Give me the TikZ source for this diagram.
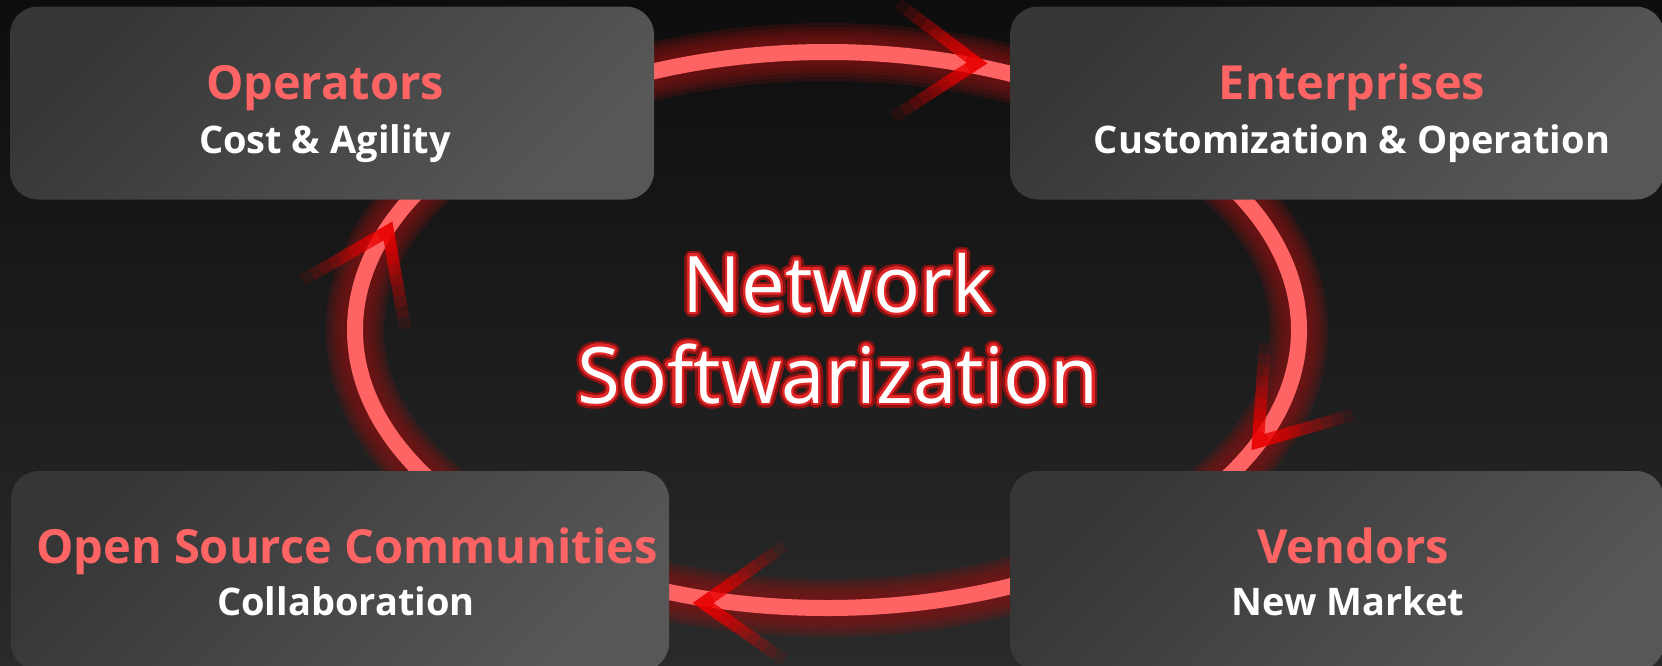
\documentclass[tikz,border=0pt]{standalone}
\usepackage{fontspec}
\setmainfont{Open Sans}
\usepackage[copies]{contour}
\usetikzlibrary{calc}

\definecolor{bgtop}{HTML}{0D0D0D}
\definecolor{bgbot}{HTML}{2A2A2A}
\definecolor{boxdark}{HTML}{363636}
\definecolor{boxlight}{HTML}{575757}
\definecolor{ringred}{HTML}{FF6464}
\definecolor{glowred}{HTML}{8A1212}
\definecolor{tipred}{HTML}{E80000}
\definecolor{outred}{HTML}{E02626}

\newcommand{\titlefont}{\fontsize{47}{52}\selectfont\bfseries}
\newcommand{\subfont}{\fontsize{38}{44}\selectfont\bfseries}
\newcommand{\bigfont}{\fontsize{78}{90}\selectfont}
\contournumber{32}
\newcommand{\glowtext}[1]{\makebox[0pt][l]{\contourlength{5pt}\contour{glowred}{\textcolor{outred}{#1}}}\contourlength{2.2pt}\contour{outred}{#1}}

\tikzset{
  panel/.style={rounded corners=28pt, top color=boxdark, bottom color=boxlight, shading angle=45, inner sep=0pt, outer sep=0pt},
  titletext/.style={text=ringred, font=\titlefont, inner sep=0pt, anchor=base},
  subtext/.style={text=white, font=\subfont, inner sep=0pt, anchor=base},
  bigtext/.style={text=white, font=\bigfont, inner sep=0pt, anchor=base},
  chevarm/.style={tipred, line width=12pt},
}

\begin{document}
\begin{tikzpicture}[x=1pt, y=-1pt]
  \useasboundingbox (0,0) rectangle (1662,665);
  \clip (0,0) rectangle (1662,665);
  \shade[top color=bgtop, bottom color=bgbot] (0,0) rectangle (1662,665);

  % glowing ring
  \coordinate (ring) at (827,330);
  \foreach \w in {58,50,42,34,26}
    \draw[glowred, opacity=.22, line width=\w pt] (ring) ellipse [x radius=472, y radius=278];
  \draw[ringred, line width=16pt] (ring) ellipse [x radius=472, y radius=278];

  % chevrons on the ring
  \coordinate (tiptop) at (977,63);
  \coordinate (tipright) at (1258,442);
  \coordinate (tipbottom) at (703,603);
  \coordinate (tipleft) at (388,231);
  \foreach \tip/\dir in {tiptop/2, tipright/129, tipbottom/180, tipleft/-65} {
    \draw[chevarm, opacity=.9, line join=miter] ($(\tip)+({\dir+145}:11)$) -- (\tip) -- ($(\tip)+({\dir+215}:11)$);
    \foreach \i in {1,...,9} {
      \pgfmathsetmacro{\op}{.9-.1*\i}
      \draw[chevarm, opacity=\op] ($(\tip)+({\dir+145}:{\i*11})$) -- ($(\tip)+({\dir+145}:{\i*11+11})$);
      \draw[chevarm, opacity=\op] ($(\tip)+({\dir+215}:{\i*11})$) -- ($(\tip)+({\dir+215}:{\i*11+11})$);
    }
  }

  % panels
  \node[panel, minimum width=644pt, minimum height=193pt] (opsbox) at (332,103) {};
  \node[panel, minimum width=654pt, minimum height=193pt] (entbox) at (1337,103) {};
  \node[panel, minimum width=658pt, minimum height=200pt] (ossbox) at (340,571) {};
  \node[panel, minimum width=654pt, minimum height=200pt] (venbox) at (1337,571) {};

  \node[titletext] (opsT) at (325,99) {Operators};
  \node[subtext] (opsS) at (325,153) {Cost \& Agility};
  \node[titletext] (entT) at (1352,99) {Enterprises};
  \node[subtext] (entS) at (1352,153) {Customization \& Operation};
  \node[titletext] (ossT) at (347,563) {Open Source Communities};
  \node[subtext] (ossS) at (346,615) {Collaboration};
  \node[titletext] (venT) at (1353,563) {Vendors};
  \node[subtext] (venS) at (1348,615) {New Market};

  % centre title
  \node[bigtext] (net) at (838,312) {\glowtext{Network}};
  \node[bigtext] (soft) at (838,403) {\glowtext{Softwarization}};
\end{tikzpicture}
\end{document}
